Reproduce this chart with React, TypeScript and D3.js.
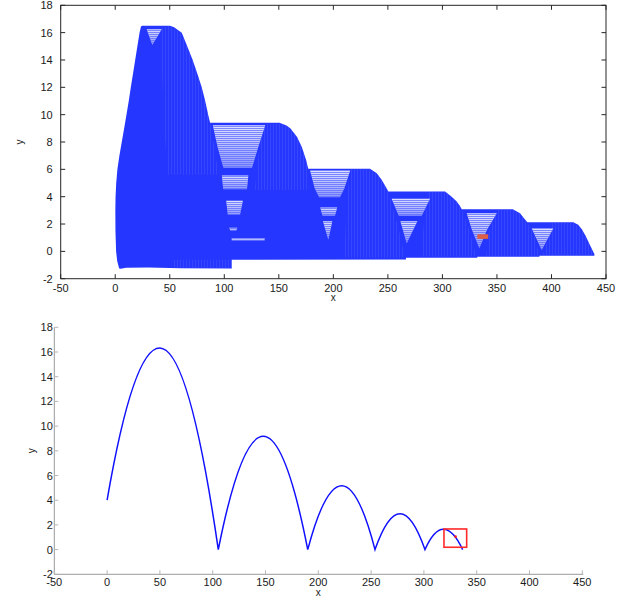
import React from "react";
import * as d3 from "d3";

// ---------- shared ticks ----------
const xTicks = [-50, 0, 50, 100, 150, 200, 250, 300, 350, 400, 450];
const yTicks = [-2, 0, 2, 4, 6, 8, 10, 12, 14, 16, 18];

// ---------- top panel (smeared trail) : outline ----------
const smearOutline: [number, number][] = [
  [3.6, -1.25], [1.8, -0.7], [0.8, 0.0], [0.2, 1.5], [0.1, 3], [0.3, 4], [0.9, 5], [2.0, 6], [3.8, 7],
  [6.0, 8], [8.2, 9], [10.3, 10], [12.4, 11], [14.3, 12], [16.3, 13], [18.3, 14], [20.3, 15], [22.3, 16],
  [23.6, 16.45], [24.6, 16.5], [50.2, 16.5], [54, 16.4], [57.5, 16.2], [61, 16], [66, 15], [71, 14], [75.3, 13], [79.3, 12],
  [82.5, 11], [85.2, 10], [87, 9.4], [150.5, 9.4], [153.6, 9.32], [157, 9.2], [160.5, 9.0], [166.6, 8.39],
  [171, 7.66], [175, 6.69], [177, 6.05], [233.6, 6.05], [239.8, 5.71], [244.4, 5.22], [248, 4.73],
  [250.4, 4.37], [302.4, 4.37], [308.5, 4.0], [313.1, 3.64], [316.1, 3.32], [317.7, 3.08], [364.5, 3.08],
  [371.2, 2.79], [374.8, 2.42], [377.9, 2.13], [420, 2.13], [424.5, 1.95], [428, 1.6], [431.5, 1.1],
  [434.5, 0.6], [437.5, 0.1], [439.3, -0.2], [439.3, -0.33], [389, -0.33], [389, -0.39], [332, -0.39],
  [332, -0.46], [266.6, -0.46], [266.6, -0.6], [106.8, -0.62], [106.8, -1.25], [60, -1.24], [30, -1.18],
  [10, -1.2], [5, -1.27],
];

// light gaps between overlapping copies (sparse horizontal lines)
const gapTop: [number, number][] = [[28.9, 16.25], [42.6, 16.25], [34.0, 15.1]];
const gap2a: [number, number][] = [[89.5, 9.22], [137.5, 9.22], [131, 7.6], [125.4, 6.12], [99.2, 6.12], [94, 7.6]];
const gap2b: [number, number][] = [[97.8, 5.55], [122, 5.55], [120.8, 4.55], [99, 4.55]];
const gap2c: [number, number][] = [[101.8, 3.7], [117, 3.7], [114.5, 2.7], [103.2, 2.7]];
const gap2d: [number, number][] = [[104.5, 1.72], [112, 1.72], [111, 1.52], [105.5, 1.52]];
const gap2e: [number, number][] = [[106.8, 0.95], [137, 0.95], [137, 0.8], [106.8, 0.8]];
const gap3a: [number, number][] = [[178.7, 5.92], [215.4, 5.92], [210, 4.6], [206, 3.95], [187, 3.95], [183, 4.6]];
const gap3b: [number, number][] = [[188, 3.2], [203.5, 3.2], [201.5, 2.6], [190, 2.6]];
const gap3c: [number, number][] = [[190.5, 2.2], [199, 2.2], [195.4, 0.85]];
const gap4a: [number, number][] = [[253.5, 3.85], [288.6, 3.85], [281, 2.6], [260, 2.6]];
const gap4b: [number, number][] = [[261.5, 2.2], [277, 2.2], [267.3, 0.6]];
const gap5: [number, number][] = [[322.3, 2.79], [349.8, 2.79], [341, 1.6], [333.9, 0.23], [327, 1.6]];
const gap6: [number, number][] = [[381.9, 1.69], [401.7, 1.69], [391, 0.1]];
const gapList = [gapTop, gap2a, gap2b, gap2c, gap2d, gap2e, gap3a, gap3b, gap3c, gap4a, gap4b, gap5, gap6];

// vertically hatched (slightly lighter) regions: right-hand copies of each hump
const hatch1: [number, number][] = [[42.6, 16.3], [50.2, 16.5], [61, 16], [71, 14], [79.3, 12], [87, 9.4], [92, 7], [95, 5.6], [48, 5.6], [45, 9], [43, 13]];
const hatch2: [number, number][] = [[137, 9.3], [153.6, 9.32], [160.5, 9.0], [166.6, 8.39], [171, 7.66], [175, 6.69], [177, 6.05], [178, 4.5], [128, 4.5], [132, 7.5]];
const hatch3: [number, number][] = [[215, 6.0], [233.6, 6.05], [239.8, 5.71], [244.4, 5.22], [248, 4.73], [250.4, 4.37], [262, 1], [265, -0.45], [210, -0.45], [212, 3]];
const hatch4: [number, number][] = [[288, 4.37], [302.4, 4.37], [308.5, 4.0], [313.1, 3.64], [317.7, 3.08], [325, 1.5], [331, -0.38], [280, -0.38], [283, 2]];
const hatch5: [number, number][] = [[350, 3.08], [364.5, 3.08], [371.2, 2.79], [377.9, 2.13], [385, 1], [389, -0.38], [340, -0.38], [343, 1.5]];
const hatch6: [number, number][] = [[400, 2.13], [420, 2.13], [428, 1.6], [434.5, 0.6], [439.3, -0.2], [439.3, -0.33], [392, -0.33], [397, 1]];
const hatchBottom: [number, number][] = [[53, -0.62], [106.8, -0.62], [106.8, -1.24], [53, -1.22]];
const hatchList = [hatch1, hatch2, hatch3, hatch4, hatch5, hatch6, hatchBottom];

// small orange marker in the top panel
const topMarkX = [332, 342];
const topMarkY = [0.91, 1.25];

// ---------- bottom panel: bouncing trajectory ----------
const arcStartX = [0, 105.3, 190, 253.7, 301];
const arcStartY = [4, 0, 0, 0, 0];
const arcPeakX = [49.8, 147.9, 222.2, 277.4, 318.4];
const arcPeakY = [16.32, 9.17, 5.18, 2.91, 1.64];
const arcEndX = [105.3, 190, 253.7, 301, 336.7];
const arcEndY = [0, 0, 0, 0, 0];

const boxX = [319, 340.5];
const boxY = [0.19, 1.67];
const dotX = 330;
const dotY = 1.05;

const FONT = "'Liberation Sans', Arial, Helvetica, sans-serif";
const SMEAR = "#2537ff";

export default function App() {
  const tx = d3.scaleLinear().domain([-50, 450]).range([60.7, 606]);
  const ty = d3.scaleLinear().domain([-2, 18]).range([278.7, 5.3]);
  const bx = d3.scaleLinear().domain([-50, 450]).range([54.3, 582.3]);
  const by = d3.scaleLinear().domain([-2, 18]).range([574.3, 327.3]);

  const poly = d3
    .line<[number, number]>()
    .x((d) => tx(d[0]))
    .y((d) => ty(d[1]));
  const polyPath = (pts: [number, number][]) => (poly(pts) || "") + "Z";

  // bottom trajectory: each arc made of two parabola halves (quadratic Béziers)
  const p = d3.path();
  arcStartX.forEach((x0, i) => {
    const y0 = arcStartY[i];
    const xv = arcPeakX[i];
    const h = arcPeakY[i];
    const x1 = arcEndX[i];
    const y1 = arcEndY[i];
    if (i === 0) p.moveTo(bx(x0), by(y0));
    else p.lineTo(bx(x0), by(y0));
    p.quadraticCurveTo(bx((x0 + xv) / 2), by(h), bx(xv), by(h));
    p.quadraticCurveTo(bx((xv + x1) / 2), by(h), bx(x1), by(y1));
  });

  const [tL, tR] = tx.range();
  const [tB, tT] = ty.range();
  const [bL, bR] = bx.range();
  const [bB, bT] = by.range();

  return (
    <svg
      width={639}
      height={601}
      style={{ position: "absolute", left: 0, top: 0, background: "#fff" }}
      fontFamily={FONT}
    >
      <defs>
        <pattern id="hstripe" width="4" height="2" patternUnits="userSpaceOnUse">
          <rect width="4" height="1" fill="#5d6bff" />
        </pattern>
        <linearGradient id="gapGrad" x1="0" y1="0" x2="0" y2="1">
          <stop offset="0" stopColor="#dfe2ff" />
          <stop offset="1" stopColor="#8d97ff" />
        </linearGradient>
        <pattern id="vstripe" width="3" height="4" patternUnits="userSpaceOnUse">
          <rect width="1" height="4" fill="#5866ff" />
        </pattern>
      </defs>

      {/* ===== TOP PANEL ===== */}
      <rect x={tL} y={tT} width={tR - tL} height={tB - tT} fill="#fff" />
      <path d={polyPath(smearOutline)} fill={SMEAR} />
      {hatchList.map((h, i) => (
        <path key={"h" + i} d={polyPath(h)} fill="url(#vstripe)" opacity={0.35} />
      ))}
      {gapList.map((g, i) => (
        <g key={"g" + i}>
          <path d={polyPath(g)} fill="url(#gapGrad)" />
          <path d={polyPath(g)} fill="url(#hstripe)" opacity={0.75} />
        </g>
      ))}
      <rect
        x={tx(topMarkX[0])}
        y={ty(topMarkY[1])}
        width={tx(topMarkX[1]) - tx(topMarkX[0])}
        height={ty(topMarkY[0]) - ty(topMarkY[1])}
        fill="#dc5f48"
      />
      {/* frame */}
      <rect x={tL} y={tT} width={tR - tL} height={tB - tT} fill="none" stroke="#262626" strokeWidth={1} />
      {xTicks.map((t) => (
        <g key={"tx" + t}>
          <line x1={tx(t)} x2={tx(t)} y1={tB} y2={tB - 4.5} stroke="#262626" />
          <line x1={tx(t)} x2={tx(t)} y1={tT} y2={tT + 4.5} stroke="#262626" />
          <text x={tx(t)} y={tB + 13} fontSize={11} textAnchor="middle" fill="#1a1a1a">
            {t}
          </text>
        </g>
      ))}
      {yTicks.map((t) => (
        <g key={"ty" + t}>
          <line x1={tL} x2={tL + 4.5} y1={ty(t)} y2={ty(t)} stroke="#262626" />
          <line x1={tR} x2={tR - 4.5} y1={ty(t)} y2={ty(t)} stroke="#262626" />
          <text x={tL - 8} y={ty(t) + 4} fontSize={11} textAnchor="end" fill="#1a1a1a">
            {t}
          </text>
        </g>
      ))}
      <text x={(tL + tR) / 2} y={301} fontSize={10} textAnchor="middle" fill="#1a1a1a">
        x
      </text>
      <text
        x={0}
        y={0}
        fontSize={10}
        textAnchor="middle"
        fill="#1a1a1a"
        transform={`translate(23,${(tT + tB) / 2}) rotate(-90)`}
      >
        y
      </text>

      {/* ===== BOTTOM PANEL ===== */}
      <line x1={bL} x2={bL} y1={bT} y2={bB} stroke="#9a9a9a" />
      <line x1={bL} x2={bR + 1} y1={bB} y2={bB} stroke="#9a9a9a" />
      {xTicks.map((t) => (
        <g key={"bx" + t}>
          <line x1={bx(t)} x2={bx(t)} y1={bB} y2={bB - 4} stroke="#b5b5b5" />
          <text x={bx(t)} y={bB + 11.5} fontSize={11} textAnchor="middle" fill="#1a1a1a">
            {t}
          </text>
        </g>
      ))}
      {yTicks.map((t) => (
        <g key={"by" + t}>
          <line x1={bL} x2={bL + 4} y1={by(t)} y2={by(t)} stroke="#b5b5b5" />
          <text x={bL - 1.5} y={by(t) + 4} fontSize={11} textAnchor="end" fill="#1a1a1a">
            {t}
          </text>
        </g>
      ))}
      <text x={(bL + bR) / 2} y={596} fontSize={10} textAnchor="middle" fill="#1a1a1a">
        x
      </text>
      <text
        x={0}
        y={0}
        fontSize={10}
        textAnchor="middle"
        fill="#1a1a1a"
        transform={`translate(35,${(bT + bB) / 2}) rotate(-90)`}
      >
        y
      </text>
      <path d={p.toString()} fill="none" stroke="#1010ff" strokeWidth={1.5} />
      <rect
        x={bx(boxX[0])}
        y={by(boxY[1])}
        width={bx(boxX[1]) - bx(boxX[0])}
        height={by(boxY[0]) - by(boxY[1])}
        fill="none"
        stroke="#ff2a2a"
        strokeWidth={1.6}
      />
      <circle cx={bx(dotX)} cy={by(dotY)} r={1.3} fill="#ff1a1a" />
    </svg>
  );
}
